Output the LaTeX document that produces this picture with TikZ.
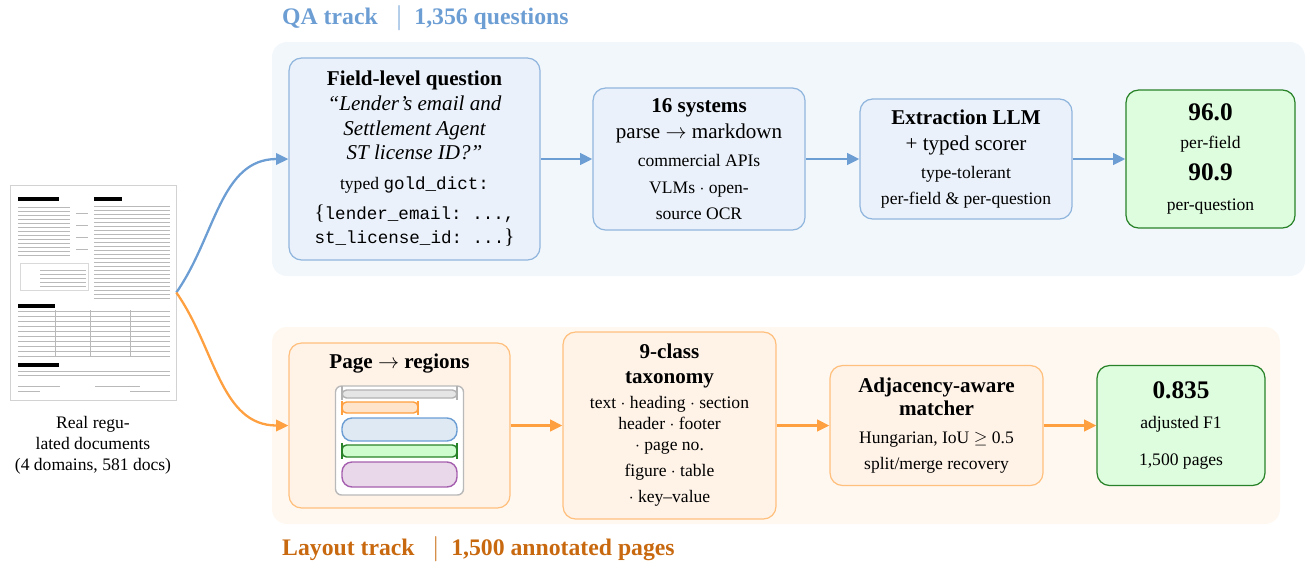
\documentclass[tikz,border=0pt]{standalone}
\usepackage{fontspec}
\setmainfont{Liberation Serif}
\setmonofont{Liberation Mono}
\usetikzlibrary{arrows.meta, positioning}
\definecolor{QABlue}{RGB}{108,158,212}
\definecolor{QAFill}{RGB}{234,241,250}
\definecolor{QALine}{RGB}{145,182,222}
\definecolor{QAPanel}{RGB}{242,247,252}
\definecolor{LOOrange}{RGB}{255,160,64}
\definecolor{LOText}{RGB}{200,105,15}
\definecolor{LOFill}{RGB}{255,243,232}
\definecolor{LOLine}{RGB}{255,192,125}
\definecolor{LOPanel}{RGB}{255,248,241}
\definecolor{ResFill}{RGB}{222,252,222}
\definecolor{ResLine}{RGB}{40,130,40}
\definecolor{RegPurple}{RGB}{165,95,175}
\definecolor{RegPurpleFill}{RGB}{233,216,234}
\definecolor{RegBlueFill}{RGB}{222,233,244}
\definecolor{RegOrangeFill}{RGB}{255,228,204}
\definecolor{RegGreenFill}{RGB}{206,252,206}

\begin{document}
\begin{tikzpicture}[x=0.02cm, y=-0.02cm,
    every node/.style={font=\normalsize},
    qabox/.style={draw=QALine, fill=QAFill, rounded corners=0.25cm, align=center,
                  inner sep=3pt, line width=0.7pt},
    lobox/.style={draw=LOLine, fill=LOFill, rounded corners=0.25cm, align=center,
                  inner sep=3pt, line width=0.7pt},
    resbox/.style={draw=ResLine, fill=ResFill, rounded corners=0.25cm, align=center,
                   inner sep=3pt, line width=0.7pt},
    tracktitle/.style={anchor=west, font=\fontsize{13.5}{16}\selectfont\bfseries},
    qaarrow/.style={-{Triangle[length=7pt,width=6.5pt]}, line width=1.5pt, color=QABlue},
    loarrow/.style={-{Triangle[length=7pt,width=6.5pt]}, line width=1.5pt, color=LOOrange},
    doctext/.style={gray!55, line width=0.35pt},
    docbar/.style={fill=black},
    regbar/.style={rounded corners=0.09cm, line width=0.8pt}]

\useasboundingbox (0,0) rectangle (1307,562);

% track panels
\fill[QAPanel, rounded corners=0.3cm] (272,42) rectangle (1305,276);
\fill[LOPanel, rounded corners=0.3cm] (272,327) rectangle (1280,524);

\node[tracktitle, text=QABlue] (qatitle) at (276,18)
    {QA track \enspace$|$\enspace 1,356 questions};
\node[tracktitle, text=LOText] (lotitle) at (276,549)
    {Layout track \enspace$|$\enspace 1,500 annotated pages};

% source documents
\node[draw=gray!35, fill=white, minimum width=3.32cm, minimum height=4.3cm,
      inner sep=0pt] (doc) at (93,292.5) {};
\fill[docbar] (18,197) rectangle (59,201);
\fill[docbar] (94,197) rectangle (122,201);
\foreach \yy in {207,211,...,255} \draw[doctext] (18,\yy) -- (70,\yy);
\foreach \yy in {213,225,237,249} \draw[doctext] (76,\yy) -- (88,\yy);
\foreach \yy in {206,210,...,298} \draw[doctext] (94,\yy) -- (170,\yy);
\draw[gray!30, line width=0.5pt] (20,263) rectangle (88,290);
\foreach \yy in {270,274,...,286} \draw[doctext] (40,\yy) -- (86,\yy);
\fill[docbar] (18,304) rectangle (55,308);
\foreach \yy in {311,316,...,356} \draw[doctext] (18,\yy) -- (170,\yy);
\foreach \xx in {55,90,130} \draw[doctext] (\xx,310) -- (\xx,356);
\fill[docbar] (18,363) rectangle (59,367);
\foreach \yy in {371,375} \draw[doctext] (18,\yy) -- (170,\yy);
\draw[doctext] (18,386) -- (60,386);
\draw[doctext] (95,386) -- (140,386);
\draw[doctext] (18,391) -- (40,391);
\draw[doctext] (130,391) -- (170,391);

\node[align=center, below=0.2cm of doc] (doclbl)
    {Real regu-\\lated documents\\(4 domains, 581 docs)};

% QA track
\node[qabox, minimum width=5.02cm, minimum height=4.04cm] (field) at (414.5,159)
    {{\large\bfseries Field-level question}\\[2pt]
     {\large\itshape “Lender’s email and}\\[2pt]
     {\large\itshape Settlement Agent}\\[2pt]
     {\large\itshape ST license ID?”}\\[5pt]
     typed \texttt{gold\_dict:}\\[5pt]
     {\large\{}\texttt{lender\_email: ...,}\\[2pt]
     \texttt{st\_license\_id: ...}{\large\}}};
\node[qabox, minimum width=4.24cm, minimum height=2.84cm] (sys) at (699,159)
    {{\large\bfseries 16 systems}\\[3pt]
     {\large parse $\rightarrow$ markdown}\\[4pt]
     commercial APIs\\[3pt]
     VLMs $\cdot$ open-\\[3pt]
     source OCR};
\node[qabox, minimum width=4.24cm, minimum height=2.4cm] (llm) at (966,159)
    {{\large\bfseries Extraction LLM}\\[3pt]
     {\large + typed scorer}\\[4pt]
     type-tolerant\\[3pt]
     per-field \& per-question};
\node[resbox, minimum width=3.38cm, minimum height=2.76cm] (qares) at (1210.5,159)
    {{\Large\bfseries 96.0}\\[4pt]
     per-field\\[6pt]
     {\Large\bfseries 90.9}\\[5pt]
     per-question};

% layout track
\node[lobox, minimum width=4.42cm, minimum height=3.3cm] (page) at (399.5,425.5) {};
\node[font=\large\bfseries] (pagettl) at (399.5,364) {Page $\rightarrow$ regions};
\node[draw=gray!55, fill=white, rounded corners=0.12cm, line width=0.8pt,
      minimum width=2.56cm, minimum height=2.18cm] (pagefig) at (399.5,440.5) {};
\draw[regbar, draw=gray!60, fill=gray!20] (342,390) rectangle (457,398);
\draw[gray!60, line width=0.8pt] (342,386) -- (342,400) (457,386) -- (457,400);
\draw[regbar, draw=LOOrange, fill=RegOrangeFill] (342,402) rectangle (418,413);
\draw[LOOrange, line width=0.8pt] (342,401) -- (342,415) (418,401) -- (418,415);
\draw[regbar, draw=QABlue, fill=RegBlueFill, rounded corners=0.2cm] (342,418) rectangle (457,441);
\draw[regbar, draw=ResLine, fill=RegGreenFill] (342,445) rectangle (457,457);
\draw[ResLine, line width=0.8pt] (342,443) -- (342,459) (457,443) -- (457,459);
\draw[regbar, draw=RegPurple, fill=RegPurpleFill, rounded corners=0.2cm] (342,462) rectangle (457,487);

\node[lobox, minimum width=4.26cm, minimum height=3.74cm] (tax) at (669.5,425.5)
    {{\large\bfseries 9-class}\\[2pt]
     {\large\bfseries taxonomy}\\[2pt]
     text $\cdot$ heading $\cdot$ section\\
     header $\cdot$ footer\\
     $\cdot$ page no.\\[3pt]
     figure $\cdot$ table\\[3pt]
     $\cdot$ key–value};
\node[lobox, minimum width=4.26cm, minimum height=2.4cm] (match) at (936.5,425.5)
    {{\large\bfseries Adjacency-aware}\\[1pt]
     {\large\bfseries matcher}\\[4pt]
     Hungarian, IoU $\geq$ 0.5\\[3pt]
     split/merge recovery};
\node[resbox, minimum width=3.36cm, minimum height=2.4cm] (lores) at (1181,425.5)
    {{\Large\bfseries 0.835}\\[5pt]
     adjusted F1\\[9pt]
     1,500 pages};

% connectors
\draw[qaarrow, line width=1.3pt] (doc.east) to[out=55, in=180] (field.west);
\draw[loarrow, line width=1.3pt] (doc.east) to[out=-55, in=180] (page.west);
\draw[qaarrow] (field) -- (sys);
\draw[qaarrow] (sys) -- (llm);
\draw[qaarrow] (llm) -- (qares);
\draw[loarrow] (page) -- (tax);
\draw[loarrow] (tax) -- (match);
\draw[loarrow] (match) -- (lores);
\end{tikzpicture}
\end{document}
